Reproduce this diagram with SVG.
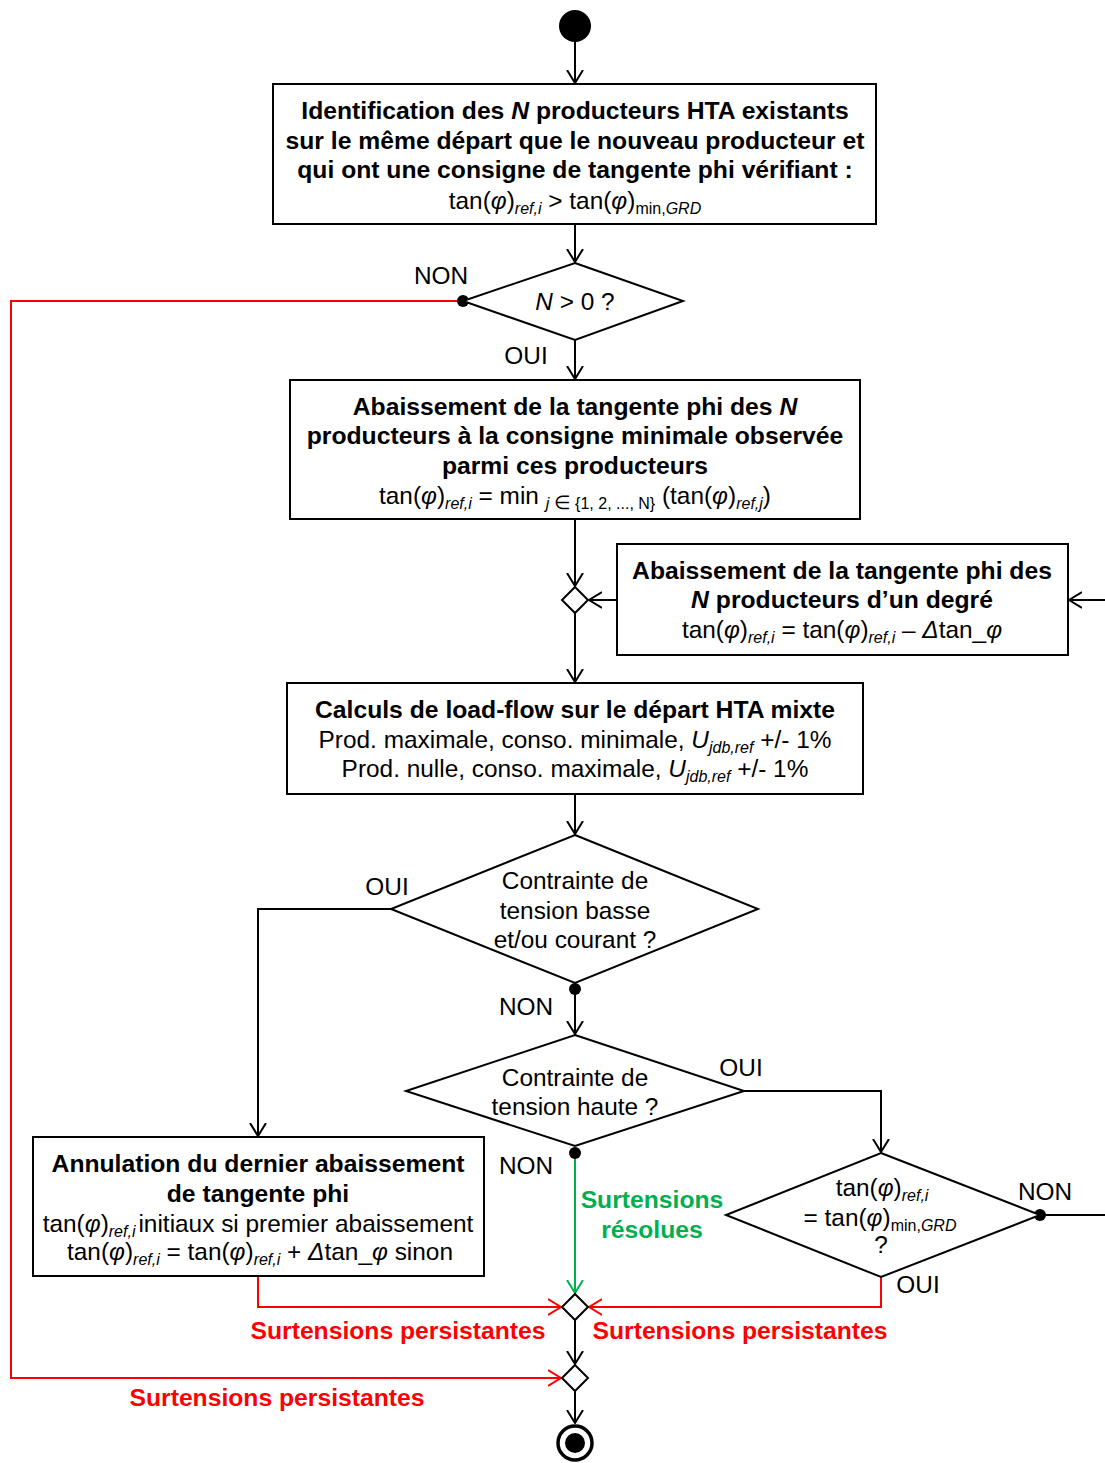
<svg xmlns="http://www.w3.org/2000/svg" width="1105" height="1463" viewBox="0 0 1105 1463">
  <style>
    .t { font-family: "Liberation Sans", Arial, sans-serif; font-size: 24.4px; text-anchor: middle; fill: #000; }
    .b { font-weight: bold; font-size: 24.7px; }
    .i { font-style: italic; }
    .s { font-size: 16px; }
    .red { fill: #FF0000; }
    .green { fill: #00B050; }
    .box { fill: #fff; stroke: #000; stroke-width: 2; }
    .dec { fill: #fff; stroke: #000; stroke-width: 2; }
    .ln { fill: none; stroke: #000; stroke-width: 2; }
    .lr { fill: none; stroke: #FF0000; stroke-width: 2; }
    .lg { fill: none; stroke: #00B050; stroke-width: 2; }
  </style>
  <defs>
    <marker id="ah" viewBox="0 0 14 18" refX="13" refY="9" markerWidth="14" markerHeight="18" markerUnits="userSpaceOnUse" orient="auto">
      <path d="M0,1 L13,9 L0,17" fill="none" stroke="#000" stroke-width="2"/>
    </marker>
    <marker id="ahr" viewBox="0 0 14 18" refX="13" refY="9" markerWidth="14" markerHeight="18" markerUnits="userSpaceOnUse" orient="auto">
      <path d="M0,1 L13,9 L0,17" fill="none" stroke="#FF0000" stroke-width="2"/>
    </marker>
    <marker id="ahg" viewBox="0 0 14 18" refX="13" refY="9" markerWidth="14" markerHeight="18" markerUnits="userSpaceOnUse" orient="auto">
      <path d="M0,1 L13,9 L0,17" fill="none" stroke="#00B050" stroke-width="2"/>
    </marker>
  </defs>

  <rect width="1105" height="1463" fill="#fff"/>

  <!-- connectors -->
  <g id="connectors">
    <path class="ln" d="M575,42 V83" marker-end="url(#ah)"/>
    <path class="ln" d="M575,224 V262" marker-end="url(#ah)"/>
    <path class="lr" d="M463,301 H11 V1378 H561" marker-end="url(#ahr)"/>
    <path class="ln" d="M575,340 V379" marker-end="url(#ah)"/>
    <path class="ln" d="M575,519 V586" marker-end="url(#ah)"/>
    <path class="ln" d="M617,600 H589" marker-end="url(#ah)"/>
    <path class="ln" d="M1105,600 H1069" marker-end="url(#ah)"/>
    <path class="ln" d="M575,613 V682" marker-end="url(#ah)"/>
    <path class="ln" d="M575,794 V834" marker-end="url(#ah)"/>
    <path class="ln" d="M391,909 H258 V1136" marker-end="url(#ah)"/>
    <path class="ln" d="M575,983 V1034" marker-end="url(#ah)"/>
    <path class="ln" d="M744,1091 H881 V1152" marker-end="url(#ah)"/>
    <path class="lg" d="M575,1153 V1293" marker-end="url(#ahg)"/>
    <path class="ln" d="M1040,1215 H1105"/>
    <path class="lr" d="M881,1277 V1307 H589" marker-end="url(#ahr)"/>
    <path class="lr" d="M258,1276 V1307 H561" marker-end="url(#ahr)"/>
    <path class="ln" d="M575,1320 V1364" marker-end="url(#ah)"/>
    <path class="ln" d="M575,1391 V1423" marker-end="url(#ah)"/>
    <circle cx="463" cy="301" r="6" fill="#000"/>
    <circle cx="575" cy="989" r="6" fill="#000"/>
    <circle cx="575" cy="1153" r="6" fill="#000"/>
    <circle cx="1040" cy="1215" r="6" fill="#000"/>
    <text class="t" x="441" y="284">NON</text>
    <text class="t" x="526" y="364">OUI</text>
    <text class="t" x="387" y="895">OUI</text>
    <text class="t" x="526" y="1015">NON</text>
    <text class="t" x="741" y="1076">OUI</text>
    <text class="t" x="526" y="1174">NON</text>
    <text class="t" x="1045" y="1200">NON</text>
    <text class="t" x="918" y="1293">OUI</text>
    <text class="t b green" x="652" y="1208">Surtensions</text>
    <text class="t b green" x="652" y="1238">résolues</text>
    <text class="t b red" x="398" y="1339">Surtensions persistantes</text>
    <text class="t b red" x="740" y="1339">Surtensions persistantes</text>
    <text class="t b red" x="277" y="1406">Surtensions persistantes</text>
  </g>

  <!-- start -->
  <g id="start">
    <circle cx="575" cy="26" r="16" fill="#000"/>
  </g>

  <!-- identification of the N producers -->
  <g id="identification">
    <rect class="box" x="273" y="84" width="603" height="140"/>
    <text class="t b" x="575" y="119">Identification des <tspan class="i">N</tspan> producteurs HTA existants</text>
    <text class="t b" x="575" y="149">sur le même départ que le nouveau producteur et</text>
    <text class="t b" x="575" y="178">qui ont une consigne de tangente phi vérifiant :</text>
    <text class="t" x="575" y="209">tan(<tspan class="i">φ</tspan>)<tspan class="s i" dy="5">ref,i</tspan><tspan dy="-5"> &gt; tan(</tspan><tspan class="i">φ</tspan>)<tspan class="s" dy="5">min,</tspan><tspan class="s i">GRD</tspan></text>
  </g>

  <!-- decision N > 0 -->
  <g id="decision-n">
    <polygon class="dec" points="575,263 683,301 575,340 463,301"/>
    <text class="t" x="575" y="310"><tspan class="i">N</tspan> &gt; 0 ?</text>
  </g>

  <!-- lowering to minimal setpoint -->
  <g id="abaissement-min">
    <rect class="box" x="290" y="380" width="570" height="139"/>
    <text class="t b" x="575" y="415">Abaissement de la tangente phi des <tspan class="i">N</tspan></text>
    <text class="t b" x="575" y="444">producteurs à la consigne minimale observée</text>
    <text class="t b" x="575" y="474">parmi ces producteurs</text>
    <text class="t" x="575" y="504">tan(<tspan class="i">φ</tspan>)<tspan class="s i" dy="5">ref,i</tspan><tspan dy="-5"> = min </tspan><tspan class="s i" dy="5">j</tspan><tspan class="s"> </tspan><tspan font-size="19px">∈</tspan><tspan class="s"> {1, 2, ..., N}</tspan><tspan dy="-5"> (tan(</tspan><tspan class="i">φ</tspan>)<tspan class="s i" dy="5">ref,j</tspan><tspan dy="-5">)</tspan></text>
  </g>

  <!-- merge before load-flow -->
  <g id="merge-1">
    <polygon class="dec" points="575,587 588,600 575,613 562,600"/>
  </g>

  <!-- lowering by one step -->
  <g id="abaissement-degre">
    <rect class="box" x="617" y="544" width="451" height="111"/>
    <text class="t b" x="842" y="579">Abaissement de la tangente phi des</text>
    <text class="t b" x="842" y="608"><tspan class="i">N</tspan> producteurs d’un degré</text>
    <text class="t" x="842" y="638">tan(<tspan class="i">φ</tspan>)<tspan class="s i" dy="5">ref,i</tspan><tspan dy="-5"> = tan(</tspan><tspan class="i">φ</tspan>)<tspan class="s i" dy="5">ref,i</tspan><tspan dy="-5"> – </tspan><tspan class="i">Δ</tspan>tan_<tspan class="i">φ</tspan></text>
  </g>

  <!-- load-flow computations -->
  <g id="load-flow">
    <rect class="box" x="287" y="683" width="576" height="111"/>
    <text class="t b" x="575" y="718">Calculs de load-flow sur le départ HTA mixte</text>
    <text class="t" x="575" y="748">Prod. maximale, conso. minimale, <tspan class="i">U</tspan><tspan class="s i" dy="5">jdb,ref</tspan><tspan dy="-5"> +/- 1%</tspan></text>
    <text class="t" x="575" y="777">Prod. nulle, conso. maximale, <tspan class="i">U</tspan><tspan class="s i" dy="5">jdb,ref</tspan><tspan dy="-5"> +/- 1%</tspan></text>
  </g>

  <!-- low voltage / current constraint -->
  <g id="decision-basse">
    <polygon class="dec" points="575,835 758,909 575,983 391,909"/>
    <text class="t" x="575" y="889">Contrainte de</text>
    <text class="t" x="575" y="919">tension basse</text>
    <text class="t" x="575" y="948">et/ou courant ?</text>
  </g>

  <!-- high voltage constraint -->
  <g id="decision-haute">
    <polygon class="dec" points="575,1035 744,1091 575,1146 406,1091"/>
    <text class="t" x="575" y="1086">Contrainte de</text>
    <text class="t" x="575" y="1115">tension haute ?</text>
  </g>

  <!-- tan phi at minimum -->
  <g id="decision-min">
    <polygon class="dec" points="881,1153 1040,1215 881,1277 726,1215"/>
    <text class="t" x="882" y="1196">tan(<tspan class="i">φ</tspan>)<tspan class="s i" dy="5">ref,i</tspan></text>
    <text class="t" x="880" y="1226">= tan(<tspan class="i">φ</tspan>)<tspan class="s" dy="5">min,</tspan><tspan class="s i">GRD</tspan></text>
    <text class="t" x="881" y="1253">?</text>
  </g>

  <!-- cancel last lowering -->
  <g id="annulation">
    <rect class="box" x="33" y="1137" width="451" height="139"/>
    <text class="t b" x="258" y="1172">Annulation du dernier abaissement</text>
    <text class="t b" x="258" y="1202">de tangente phi</text>
    <text class="t" x="258" y="1232">tan(<tspan class="i">φ</tspan>)<tspan class="s i" dy="5">ref,i</tspan><tspan dy="-5" dx="3">initiaux si premier abaissement</tspan></text>
    <text class="t" x="260" y="1260">tan(<tspan class="i">φ</tspan>)<tspan class="s i" dy="5">ref,i</tspan><tspan dy="-5"> = tan(</tspan><tspan class="i">φ</tspan>)<tspan class="s i" dy="5">ref,i</tspan><tspan dy="-5"> + </tspan><tspan class="i">Δ</tspan>tan_<tspan class="i">φ</tspan> sinon</text>
  </g>

  <!-- merges towards the end -->
  <g id="merge-2">
    <polygon class="dec" points="575,1294 588,1307 575,1320 562,1307"/>
  </g>
  <g id="merge-3">
    <polygon class="dec" points="575,1365 588,1378 575,1391 562,1378"/>
  </g>

  <!-- end -->
  <g id="end">
    <circle cx="575" cy="1443" r="17" fill="#fff" stroke="#000" stroke-width="3.5"/>
    <circle cx="575" cy="1443" r="10" fill="#000"/>
  </g>
</svg>
